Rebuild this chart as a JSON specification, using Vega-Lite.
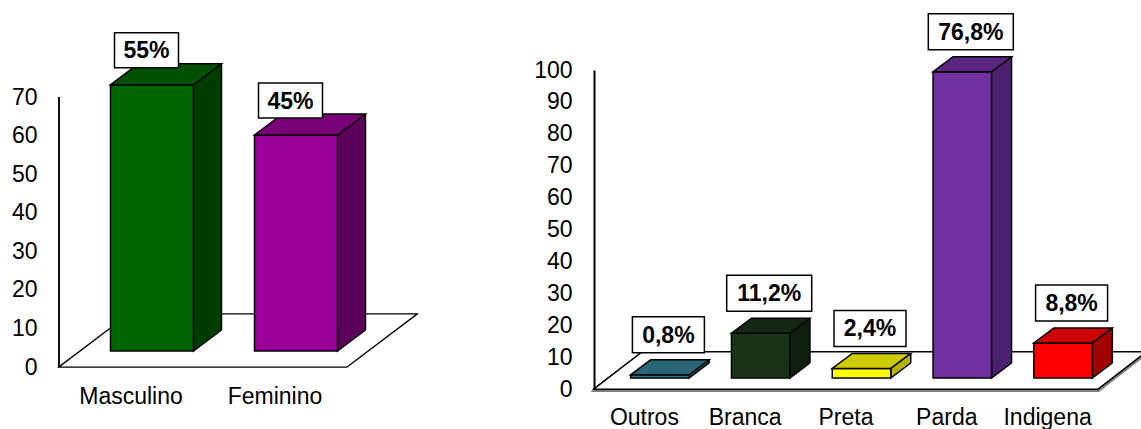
{
  "$schema": "https://vega.github.io/schema/vega-lite/v6.json",
  "background": "white",
  "padding": {"left": 11, "top": 10, "right": -6, "bottom": 0},
  "autosize": {"type": "pad"},
  "spacing": 247,
  "bounds": "flush",
  "config": {
    "view": {"stroke": null},
    "locale": {"number": {"decimal": ",", "thousands": ".", "grouping": [3], "currency": ["R$", ""]}},
    "axis": {
      "labelFont": "Liberation Sans",
      "labelFontSize": 23,
      "labelColor": "black",
      "title": null,
      "ticks": false,
      "tickSize": 0,
      "grid": false,
      "labelOverlap": false
    },
    "text": {"font": "Liberation Sans"}
  },
  "resolve": {"scale": {"x": "independent", "y": "independent", "fill": "independent"}},
  "hconcat": [
    {
      "width": 288,
      "height": 297,
      "data": {
        "values": [
          {"sexo": "Masculino", "n": 69, "pct": 0.55},
          {"sexo": "Feminino", "n": 56, "pct": 0.45}
        ]
      },
      "encoding": {
        "x": {
          "field": "sexo",
          "type": "nominal",
          "sort": null,
          "scale": {"type": "band", "paddingInner": 0, "paddingOuter": 0},
          "axis": {"domain": false, "labelPadding": 18, "labelAngle": 0}
        },
        "y": {
          "field": "n",
          "type": "quantitative",
          "scale": {"domain": [0, 77], "nice": false, "zero": true},
          "axis": {"domain": false, "labelPadding": 22, "values": [0, 10, 20, 30, 40, 50, 60, 70]}
        }
      },
      "resolve": {"scale": {"fill": "independent"}},
      "layer": [
        {
          "mark": {"type": "point", "shape": "M-72,0H216L286,-53H-2Z", "size": 4, "filled": true, "fill": "white", "stroke": "black", "strokeWidth": 1.2, "opacity": 1},
          "encoding": {"x": {"datum": "Masculino"}, "y": {"datum": 0}}
        },
        {
          "mark": {"type": "bar", "width": 83, "xOffset": 49, "yOffset": -37, "y2Offset": -37},
          "encoding": {
            "fill": {"field": "sexo", "type": "nominal", "legend": null,
                     "scale": {"domain": ["Masculino", "Feminino"], "range": ["#003d00", "#5c005c"]}}
          }
        },
        {
          "mark": {"type": "point", "shape": "M62.5,-37V-16L90.5,-37", "size": 4, "filled": true, "stroke": "black", "strokeWidth": 1.5, "opacity": 1},
          "encoding": {
            "y": {"datum": 0},
            "fill": {"field": "sexo", "type": "nominal", "legend": null,
                     "scale": {"domain": ["Masculino", "Feminino"], "range": ["#003d00", "#5c005c"]}}
          }
        },
        {
          "mark": {"type": "bar", "width": 83, "xOffset": 21, "yOffset": -16, "y2Offset": -16, "stroke": "black", "strokeWidth": 1.5},
          "encoding": {
            "fill": {"field": "sexo", "type": "nominal", "legend": null,
                     "scale": {"domain": ["Masculino", "Feminino"], "range": ["#006600", "#990099"]}}
          }
        },
        {
          "mark": {"type": "point", "shape": "M-20.5,-16H62.5L90.5,-37H7.5Z", "size": 4, "filled": true, "stroke": "black", "strokeWidth": 1.5, "opacity": 1},
          "encoding": {
            "fill": {"field": "sexo", "type": "nominal", "legend": null,
                     "scale": {"domain": ["Masculino", "Feminino"], "range": ["#005200", "#7a007a"]}}
          }
        },
        {
          "mark": {"type": "rule", "xOffset": 90.5, "yOffset": -37, "y2Offset": -37, "color": "black", "strokeWidth": 1.5},
          "encoding": {"y2": {"datum": 0}}
        },
        {
          "mark": {"type": "point", "shape": "M-32,-17.5H32V17.5H-32Z", "size": 4, "filled": true, "fill": "white", "stroke": "black", "strokeWidth": 1.5, "opacity": 1, "xOffset": 15.5, "yOffset": -50.5}
        },
        {
          "mark": {"type": "text", "fontSize": 23, "fontWeight": "bold", "color": "black", "align": "center", "baseline": "middle", "xOffset": 15.5, "yOffset": -49.5},
          "encoding": {"text": {"field": "pct", "type": "quantitative", "format": ".0%"}}
        },
        {
          "mark": {"type": "rule", "xOffset": -72, "color": "black", "strokeWidth": 1.5},
          "encoding": {"x": {"datum": "Masculino"}, "y": {"datum": 0}, "y2": {"datum": 70}}
        }
      ]
    },
    {
      "width": 504,
      "height": 319,
      "data": {
        "values": [
          {"cor": "Outros", "n": 1, "pct": 0.008},
          {"cor": "Branca", "n": 14, "pct": 0.112},
          {"cor": "Preta", "n": 3, "pct": 0.024},
          {"cor": "Parda", "n": 96, "pct": 0.768},
          {"cor": "Indigena", "n": 11, "pct": 0.088}
        ]
      },
      "encoding": {
        "x": {
          "field": "cor",
          "type": "nominal",
          "sort": null,
          "scale": {"type": "band", "paddingInner": 0, "paddingOuter": 0},
          "axis": {"domain": false, "labelPadding": 17, "labelAngle": 0}
        },
        "y": {
          "field": "n",
          "type": "quantitative",
          "scale": {"domain": [0, 100], "nice": false, "zero": true},
          "axis": {"domain": true, "domainColor": "black", "domainWidth": 2, "labelPadding": 22, "values": [0, 10, 20, 30, 40, 50, 60, 70, 80, 90, 100]}
        }
      },
      "resolve": {"scale": {"fill": "independent"}},
      "layer": [
        {
          "mark": {"type": "point", "shape": "M-50.4,0H453.6L501.6,-37H-2.4Z", "size": 4, "filled": false, "stroke": "#808080", "strokeWidth": 2, "opacity": 1, "yOffset": 2},
          "encoding": {"x": {"datum": "Outros"}, "y": {"datum": 0}}
        },
        {
          "mark": {"type": "point", "shape": "M-50.4,0H453.6L501.6,-37H-2.4Z", "size": 4, "filled": true, "fill": "white", "stroke": "black", "strokeWidth": 1.2, "opacity": 1},
          "encoding": {"x": {"datum": "Outros"}, "y": {"datum": 0}}
        },
        {
          "mark": {"type": "bar", "width": 58.5, "xOffset": 35.5, "yOffset": -26, "y2Offset": -26},
          "encoding": {
            "fill": {"field": "cor", "type": "nominal", "legend": null,
                     "scale": {"domain": ["Outros", "Branca", "Preta", "Parda", "Indigena"],
                               "range": ["#1f4d59", "#0f1f0f", "#b3b300", "#4b2070", "#a30000"]}}
          }
        },
        {
          "mark": {"type": "point", "shape": "M44.75,-26V-11L64.75,-26", "size": 4, "filled": true, "stroke": "black", "strokeWidth": 1.5, "opacity": 1},
          "encoding": {
            "y": {"datum": 0},
            "fill": {"field": "cor", "type": "nominal", "legend": null,
                     "scale": {"domain": ["Outros", "Branca", "Preta", "Parda", "Indigena"],
                               "range": ["#1f4d59", "#0f1f0f", "#b3b300", "#4b2070", "#a30000"]}}
          }
        },
        {
          "mark": {"type": "bar", "width": 58.5, "xOffset": 15.5, "yOffset": -11, "y2Offset": -11, "stroke": "black", "strokeWidth": 1.5},
          "encoding": {
            "fill": {"field": "cor", "type": "nominal", "legend": null,
                     "scale": {"domain": ["Outros", "Branca", "Preta", "Parda", "Indigena"],
                               "range": ["#327b8f", "#193319", "#ffff00", "#7030a0", "#ff0000"]}}
          }
        },
        {
          "mark": {"type": "point", "shape": "M-13.75,-11H44.75L64.75,-26H6.25Z", "size": 4, "filled": true, "stroke": "black", "strokeWidth": 1.5, "opacity": 1},
          "encoding": {
            "fill": {"field": "cor", "type": "nominal", "legend": null,
                     "scale": {"domain": ["Outros", "Branca", "Preta", "Parda", "Indigena"],
                               "range": ["#2a6677", "#142914", "#cccc00", "#5a2680", "#cc0000"]}}
          }
        },
        {
          "mark": {"type": "rule", "xOffset": 64.75, "yOffset": -26, "y2Offset": -26, "color": "black", "strokeWidth": 1.5},
          "encoding": {"y2": {"datum": 0}}
        },
        {
          "mark": {"type": "point", "size": 4, "filled": true, "fill": "white", "stroke": "black", "strokeWidth": 1.5, "opacity": 1, "xOffset": 24, "yOffset": -51},
          "encoding": {
            "shape": {
              "condition": {"test": "datum.pct < 0.1", "value": "M-36,-18H36V18H-36Z"},
              "value": "M-42.5,-18H42.5V18H-42.5Z"
            }
          }
        },
        {
          "mark": {"type": "text", "fontSize": 23, "fontWeight": "bold", "color": "black", "align": "center", "baseline": "middle", "xOffset": 24, "yOffset": -50},
          "encoding": {"text": {"field": "pct", "type": "quantitative", "format": ".1%"}}
        }
      ]
    }
  ]
}
